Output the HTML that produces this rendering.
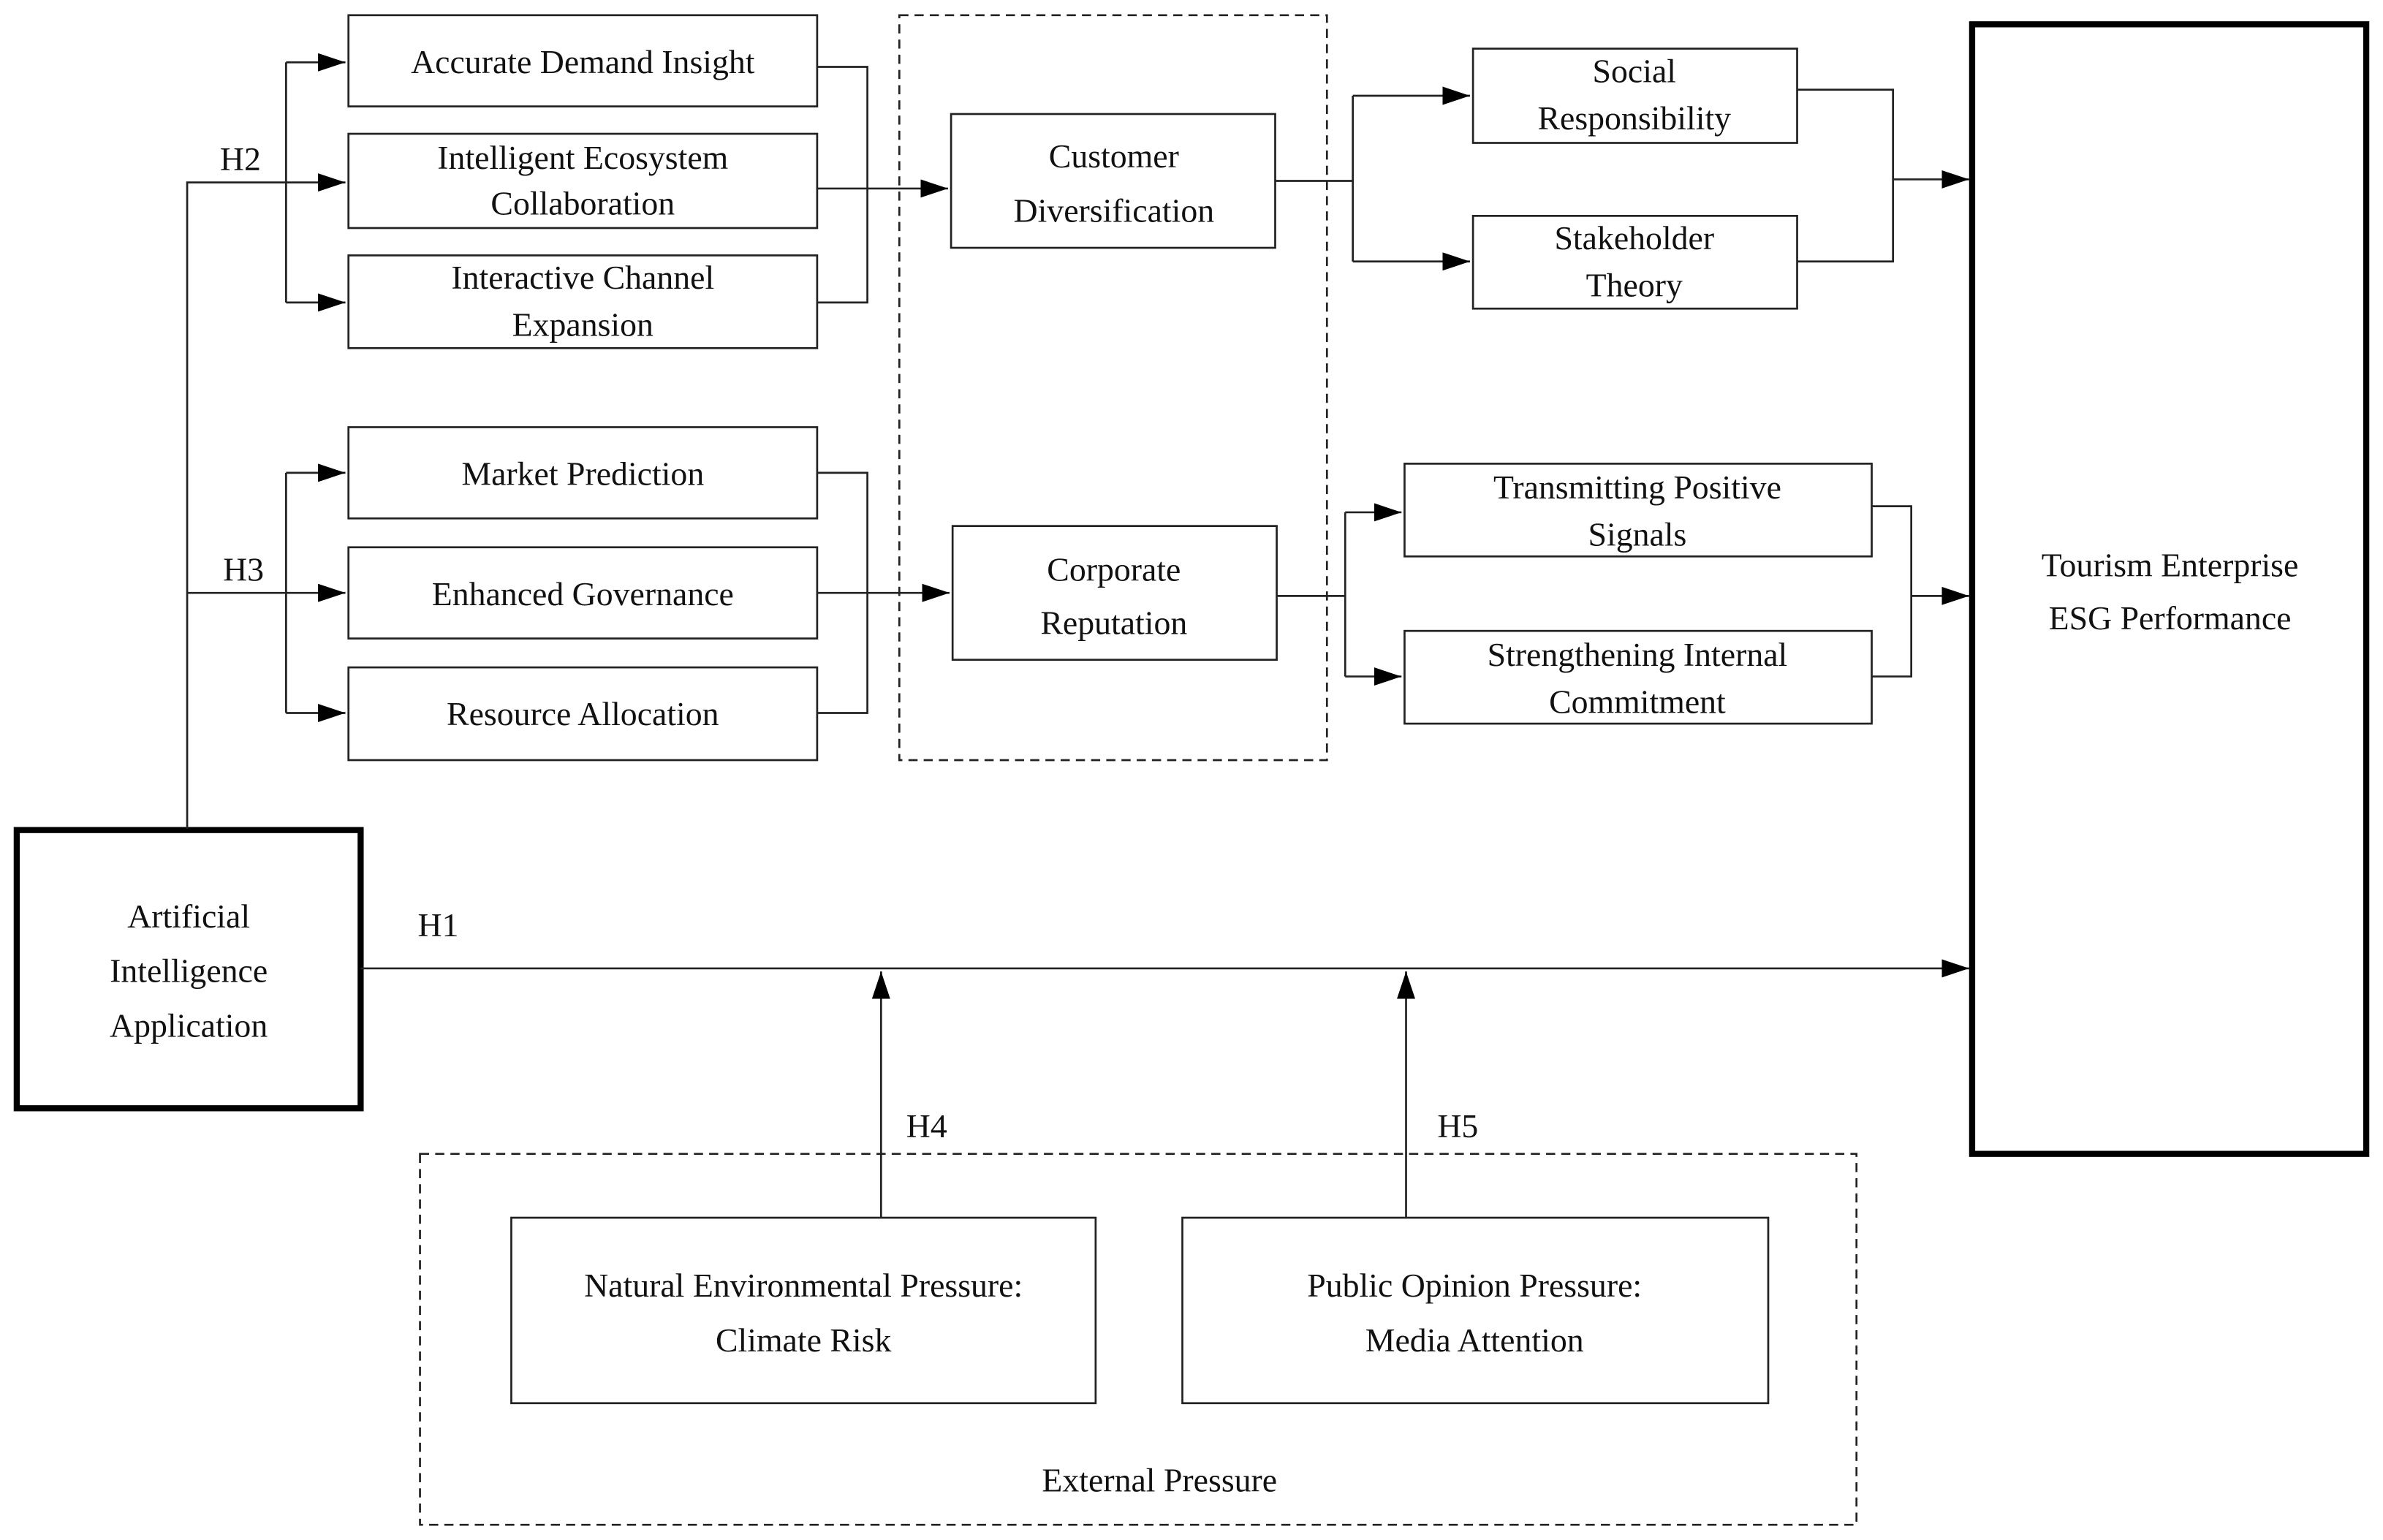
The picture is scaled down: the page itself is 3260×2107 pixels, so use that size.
<!DOCTYPE html>
<html><head><meta charset="utf-8"><style>
html,body{margin:0;padding:0;background:#fff;}
svg{display:block;}
text{font-family:"Liberation Serif",serif;font-size:22px;fill:#111;text-anchor:middle;}
</style></head><body>
<svg width="3260" height="2107" viewBox="0 0 1566 1013" preserveAspectRatio="none" xmlns="http://www.w3.org/2000/svg">
<defs>
<marker id="b" markerWidth="18" markerHeight="12" refX="18" refY="6" orient="auto" markerUnits="userSpaceOnUse" viewBox="0 0 18 12"><path d="M0,0 L18,6 L0,12 z" fill="#000"/></marker></defs>
<g fill="none" stroke="#222" stroke-width="1.3">
<rect x="591" y="10" width="281" height="490" stroke-dasharray="6,4"/>
<rect x="276" y="759" width="944" height="244" stroke-dasharray="6,4"/>
<rect x="229" y="10" width="308" height="60"/>
<rect x="229" y="88" width="308" height="62"/>
<rect x="229" y="168" width="308" height="61"/>
<rect x="229" y="281" width="308" height="60"/>
<rect x="229" y="360" width="308" height="60"/>
<rect x="229" y="439" width="308" height="61"/>
<rect x="625" y="75" width="213" height="88"/>
<rect x="626" y="346" width="213" height="88"/>
<rect x="968" y="32" width="213" height="62"/>
<rect x="968" y="142" width="213" height="61"/>
<rect x="923" y="305" width="307" height="61"/>
<rect x="923" y="415" width="307" height="61"/>
<rect x="336" y="801" width="384" height="122"/>
<rect x="777" y="801" width="385" height="122"/>
<rect x="11" y="546" width="226" height="183" stroke="#000" stroke-width="4"/>
<rect x="1296" y="16" width="259" height="743" stroke="#000" stroke-width="4"/>
<polyline points="123,545 123,120 188,120"/>
<line x1="123" y1="390" x2="188" y2="390"/>
<line x1="188" y1="41" x2="188" y2="199"/>
<line x1="188" y1="311" x2="188" y2="469"/>
<line x1="188" y1="41" x2="227" y2="41" marker-end="url(#b)"/>
<line x1="188" y1="120" x2="227" y2="120" marker-end="url(#b)"/>
<line x1="188" y1="199" x2="227" y2="199" marker-end="url(#b)"/>
<line x1="188" y1="311" x2="227" y2="311" marker-end="url(#b)"/>
<line x1="188" y1="390" x2="227" y2="390" marker-end="url(#b)"/>
<line x1="188" y1="469" x2="227" y2="469" marker-end="url(#b)"/>
<polyline points="537,44 570,44 570,199 537,199"/>
<line x1="537" y1="124" x2="623" y2="124" marker-end="url(#b)"/>
<polyline points="537,311 570,311 570,469 537,469"/>
<line x1="537" y1="390" x2="624" y2="390" marker-end="url(#b)"/>
<line x1="838" y1="119" x2="889" y2="119"/>
<line x1="889" y1="63" x2="889" y2="172"/>
<line x1="889" y1="63" x2="966" y2="63" marker-end="url(#b)"/>
<line x1="889" y1="172" x2="966" y2="172" marker-end="url(#b)"/>
<polyline points="1181,59 1244,59 1244,172 1181,172"/>
<line x1="1244" y1="118" x2="1294" y2="118" marker-end="url(#b)"/>
<line x1="839" y1="392" x2="884" y2="392"/>
<line x1="884" y1="337" x2="884" y2="445"/>
<line x1="884" y1="337" x2="921" y2="337" marker-end="url(#b)"/>
<line x1="884" y1="445" x2="921" y2="445" marker-end="url(#b)"/>
<polyline points="1230,333 1256,333 1256,445 1230,445"/>
<line x1="1256" y1="392" x2="1294" y2="392" marker-end="url(#b)"/>
<line x1="237" y1="637" x2="1294" y2="637" marker-end="url(#b)"/>
<line x1="579" y1="801" x2="579" y2="639" marker-end="url(#b)"/>
<line x1="924" y1="801" x2="924" y2="639" marker-end="url(#b)"/>
</g>
<text x="383" y="48">Accurate Demand Insight</text>
<text x="383" y="111">Intelligent Ecosystem</text><text x="383" y="141">Collaboration</text>
<text x="383" y="190">Interactive Channel</text><text x="383" y="221">Expansion</text>
<text x="383" y="319">Market Prediction</text>
<text x="383" y="398">Enhanced Governance</text>
<text x="383" y="477">Resource Allocation</text>
<text x="732" y="110">Customer</text><text x="732" y="146">Diversification</text>
<text x="732" y="382">Corporate</text><text x="732" y="417">Reputation</text>
<text x="1074" y="54">Social</text><text x="1074" y="85">Responsibility</text>
<text x="1074" y="164">Stakeholder</text><text x="1074" y="195">Theory</text>
<text x="1076" y="328">Transmitting Positive</text><text x="1076" y="359">Signals</text>
<text x="1076" y="438">Strengthening Internal</text><text x="1076" y="469">Commitment</text>
<text x="1426" y="379">Tourism Enterprise</text><text x="1426" y="414">ESG Performance</text>
<text x="124" y="610">Artificial</text><text x="124" y="646">Intelligence</text><text x="124" y="682">Application</text>
<text x="528" y="853">Natural Environmental Pressure:</text><text x="528" y="889">Climate Risk</text>
<text x="969" y="853">Public Opinion Pressure:</text><text x="969" y="889">Media Attention</text>
<text x="762" y="981">External Pressure</text>
<text x="158" y="112">H2</text>
<text x="160" y="382">H3</text>
<text x="288" y="616">H1</text>
<text x="609" y="748">H4</text>
<text x="958" y="748">H5</text>
</svg>
</body></html>
